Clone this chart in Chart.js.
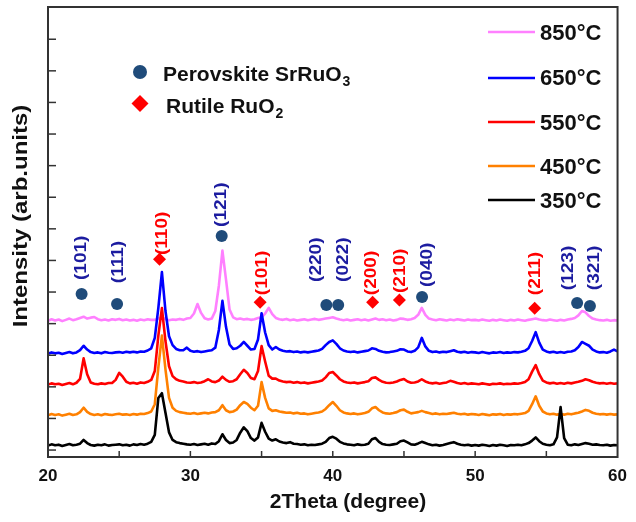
<!DOCTYPE html>
<html><head><meta charset="utf-8">
<script src="https://cdn.jsdelivr.net/npm/chart.js@4.4.1/dist/chart.umd.min.js"></script>
<style>html,body{margin:0;padding:0;background:#fff;}canvas{display:block;}</style>
</head><body>
<canvas id="c" width="636" height="522"></canvas>
<script>
// ---- categories: 2Theta (degree) ----
const twoTheta = [
20,20.25,20.5,20.75,21,21.25,21.5,21.75,22,22.25,22.5,22.75,23,23.25,23.5,23.75,24,24.25,24.5,24.75,
25,25.25,25.5,25.75,26,26.25,26.5,26.75,27,27.25,27.5,27.75,28,28.25,28.5,28.75,29,29.25,29.5,29.75,
30,30.25,30.5,30.75,31,31.25,31.5,31.75,32,32.25,32.5,32.75,33,33.25,33.5,33.75,34,34.25,34.5,34.75,
35,35.25,35.5,35.75,36,36.25,36.5,36.75,37,37.25,37.5,37.75,38,38.25,38.5,38.75,39,39.25,39.5,39.75,
40,40.25,40.5,40.75,41,41.25,41.5,41.75,42,42.25,42.5,42.75,43,43.25,43.5,43.75,44,44.25,44.5,44.75,
45,45.25,45.5,45.75,46,46.25,46.5,46.75,47,47.25,47.5,47.75,48,48.25,48.5,48.75,49,49.25,49.5,49.75,
50,50.25,50.5,50.75,51,51.25,51.5,51.75,52,52.25,52.5,52.75,53,53.25,53.5,53.75,54,54.25,54.5,54.75,
55,55.25,55.5,55.75,56,56.25,56.5,56.75,57,57.25,57.5,57.75,58,58.25,58.5,58.75,59,59.25,59.5,59.75,
60];

// ---- series: intensity (arb. units, stacked as plotted) ----
const int350 = [
14,18,15,17,13,16,19,15,17,20,32,22,16,14,17,15,18,14,16,17,
18,15,17,14,18,16,19,17,20,26,48,165,180,118,56,32,25,22,20,18,
17,19,16,18,20,17,21,19,28,50,32,22,24,32,55,72,60,38,30,40,
86,58,36,30,34,27,24,22,25,20,19,17,18,15,17,16,18,20,26,38,
42,36,26,21,18,17,15,18,16,17,20,34,38,26,19,17,16,18,20,28,
30,24,18,17,21,26,22,18,15,17,14,16,19,22,25,20,17,15,17,14,
16,14,17,15,13,16,14,17,15,13,16,15,17,15,18,22,30,40,28,20,
17,15,18,40,136,38,17,15,18,16,19,22,20,17,18,16,15,17,14,16,
15];
const int450 = [
110,114,111,113,109,112,115,111,113,120,134,121,114,111,113,110,114,112,111,113,
115,112,113,111,114,112,115,114,117,122,145,262,362,255,165,134,124,120,118,116,
115,117,114,116,118,116,119,120,126,142,126,120,122,128,142,152,146,134,126,140,
215,165,132,124,126,122,120,118,119,116,118,115,116,113,115,117,119,122,130,142,
152,140,126,119,116,114,116,113,115,117,121,132,136,126,119,116,115,117,120,126,
128,121,116,118,120,124,120,117,114,116,113,115,114,116,118,115,113,115,112,114,
113,111,114,112,110,113,112,114,111,113,112,114,113,115,117,124,145,170,140,122,
116,113,115,112,114,112,115,113,116,118,122,127,124,118,115,113,114,112,114,112,
113];
const int550 = [
207,211,208,210,206,209,212,208,213,225,290,240,214,210,208,211,209,212,212,222,
244,232,216,211,213,210,214,212,216,222,250,362,449,345,265,234,224,219,217,214,
213,215,212,214,218,224,217,215,220,232,222,216,218,224,240,254,244,228,224,250,
329,280,235,226,226,220,217,215,216,213,215,212,214,211,213,215,217,220,230,244,
247,236,224,217,214,212,214,211,213,215,218,228,230,222,216,213,212,214,217,222,
225,217,213,214,217,224,217,213,211,213,210,212,214,219,216,212,210,212,209,211,
210,208,211,209,207,210,209,211,208,210,209,211,210,212,215,224,248,269,240,220,
214,211,213,210,212,210,213,211,214,216,219,224,221,216,213,211,212,210,212,210,
211];
const int650 = [
305,309,306,308,304,307,310,306,309,316,330,318,310,307,309,306,310,308,307,309,
310,308,311,309,311,309,312,311,315,322,355,450,563,440,360,332,320,316,316,324,
314,311,313,310,312,314,316,324,380,472,390,334,320,322,330,342,330,318,320,350,
433,372,332,318,326,318,314,312,313,310,312,309,311,309,311,313,315,320,332,342,
347,336,322,315,312,310,312,309,311,313,315,322,320,314,311,309,310,312,314,319,
318,312,310,314,325,355,328,314,310,312,309,311,310,313,316,311,309,311,308,310,
309,307,310,308,306,309,308,310,307,309,308,310,309,311,314,322,345,373,340,318,
312,309,311,308,310,308,311,312,316,326,342,336,330,318,312,309,310,308,312,318,
312];
const int850 = [
409,414,410,413,408,412,416,411,414,418,422,416,419,421,414,411,413,410,414,412,
415,411,413,410,412,409,413,411,414,412,412,416,420,414,411,413,412,415,412,416,
418,432,462,434,417,413,416,440,520,631,540,445,420,414,416,413,415,412,414,418,
420,432,450,430,418,414,412,415,411,413,410,412,414,411,413,415,412,414,416,418,
420,416,413,411,413,410,412,414,411,413,410,413,416,412,414,411,413,410,412,416,
415,412,414,418,428,450,428,416,413,411,414,412,410,413,411,414,412,410,413,411,
412,410,413,411,409,412,410,413,411,409,412,410,413,411,409,412,414,416,413,411,
410,413,411,409,412,410,413,415,418,426,440,436,424,416,413,411,410,412,409,411,
410];

const seriesNames = ['350°C','450°C','550°C','650°C','850°C'];
const seriesValues = [int350, int450, int550, int650, int850];
const xTickLabels = [20, 30, 40, 50, 60];

// ---- phase markers (2Theta, height) ----
const perovskiteX = [22.36, 24.85, 32.2, 39.55, 40.38, 46.27, 57.16, 58.06];
const perovskiteY = [494, 462, 677, 459, 459, 484, 465, 456];
const perovskiteLabels = ['(101)','(111)','(121)','(220)','(022)','(040)','(123)','(321)'];
const rutileX = [27.83, 34.9, 42.8, 44.68, 54.18];
const rutileY = [604, 468, 468, 475, 449];
const rutileLabels = ['(110)','(101)','(200)','(210)','(211)'];

// ---- layout / style (kept apart from data) ----
const FONT = '"Liberation Sans", Arial, Helvetica, sans-serif';
const seriesColors = ['#000000', '#ff8000', '#ff0000', '#0000ff', '#ff80ff'];
const perovColor = '#1f4b7a', perovText = '#1c1ca0', rutileColor = '#ff0000';
const perovLabelAnchor = {x:[22.36,24.92,32.2,38.86,40.73,46.62,56.53,58.34], y:[538,528,706,532,532,516,506,506]};
const rutileLabelAnchor = {x:[28.04,35.04,42.74,44.75,54.25], y:[617,490,490,497,490]};
const legendRows = [ // series index, line y, text baseline
  {i:4, y:32, b:40}, {i:3, y:78, b:85}, {i:2, y:122, b:130}, {i:1, y:166, b:174}, {i:0, y:200, b:208}
];

const lineSets = seriesValues.map((vals, k) => ({
  label: seriesNames[k],
  data: twoTheta.map((t, i) => ({x: t, y: vals[i]})),
  borderColor: seriesColors[k],
  borderWidth: 2.6,
  pointRadius: 0,
  tension: 0,
  fill: false,
  borderJoinStyle: 'round'
}));
const markerSets = [
  {label:'Perovskite SrRuO3', data: perovskiteX.map((t,i)=>({x:t,y:perovskiteY[i]})), showLine:false,
   pointStyle:'circle', pointRadius:6, backgroundColor:perovColor, borderColor:perovColor, borderWidth:0},
  {label:'Rutile RuO2', data: rutileX.map((t,i)=>({x:t,y:rutileY[i]})), showLine:false,
   pointStyle:'rectRot', pointRadius:6.5, backgroundColor:rutileColor, borderColor:rutileColor, borderWidth:0}
];

function rotText(ctx, txt, x, y, font, color, stretch, align) {
  ctx.save();
  ctx.translate(x, y);
  ctx.rotate(-Math.PI/2);
  ctx.scale(stretch, 1);
  ctx.font = font; ctx.fillStyle = color;
  ctx.textAlign = align; ctx.textBaseline = 'middle';
  ctx.fillText(txt, 0, 0);
  ctx.restore();
}

const overlay = {
  id: 'overlay',
  afterDraw(chart) {
    const {ctx, chartArea: a, scales: {x, y}} = chart;
    ctx.save();
    // frame
    ctx.strokeStyle = '#333'; ctx.lineWidth = 2;
    ctx.strokeRect(a.left, a.top, a.right - a.left, a.bottom - a.top);
    // inside tick marks
    ctx.lineWidth = 1.5;
    y.ticks.forEach(t => {
      const py = y.getPixelForValue(t.value);
      if (py < a.top + 1 || py > a.bottom - 1) return;
      ctx.beginPath(); ctx.moveTo(a.left, py); ctx.lineTo(a.left + 8, py); ctx.stroke();
    });
    x.ticks.forEach(t => {
      const px = x.getPixelForValue(t.value);
      if (px < a.left + 1 || px > a.right - 1) return;
      ctx.beginPath(); ctx.moveTo(px, a.bottom); ctx.lineTo(px, a.bottom - 6); ctx.stroke();
    });
    // axis titles
    ctx.fillStyle = '#111';
    ctx.font = 'bold 21px ' + FONT; ctx.textAlign = 'center'; ctx.textBaseline = 'alphabetic';
    ctx.fillText('2Theta (degree)', 348, 508);
    rotText(ctx, 'Intensity (arb.units)', 21, 216, 'bold 20px ' + FONT, '#111', 1.2, 'center');
    // series legend
    legendRows.forEach(r => {
      ctx.strokeStyle = seriesColors[r.i]; ctx.lineWidth = 2.5;
      ctx.beginPath(); ctx.moveTo(488, r.y); ctx.lineTo(535, r.y); ctx.stroke();
      ctx.fillStyle = '#111'; ctx.font = 'bold 22px ' + FONT; ctx.textAlign = 'left';
      ctx.fillText(seriesNames[r.i], 540, r.b);
    });
    // phase legend
    ctx.fillStyle = perovColor;
    ctx.beginPath(); ctx.arc(140, 72, 7, 0, Math.PI*2); ctx.fill();
    ctx.fillStyle = rutileColor;
    ctx.beginPath(); ctx.moveTo(140, 95); ctx.lineTo(148.5, 103.5); ctx.lineTo(140, 112); ctx.lineTo(131.5, 103.5); ctx.closePath(); ctx.fill();
    ctx.fillStyle = '#111'; ctx.font = 'bold 21px ' + FONT; ctx.textAlign = 'left';
    let w = ctx.measureText('Perovskite SrRuO').width;
    ctx.fillText('Perovskite SrRuO', 163, 81);
    ctx.font = 'bold 14px ' + FONT; ctx.fillText('3', 163 + w + 1, 86);
    ctx.font = 'bold 21px ' + FONT;
    w = ctx.measureText('Rutile RuO').width;
    ctx.fillText('Rutile RuO', 166, 113);
    ctx.font = 'bold 14px ' + FONT; ctx.fillText('2', 166 + w + 1, 118);
    // peak labels
    const lf = 'bold 17px ' + FONT;
    perovskiteLabels.forEach((s, i) => {
      rotText(ctx, s, x.getPixelForValue(perovLabelAnchor.x[i]), y.getPixelForValue(perovLabelAnchor.y[i]), lf, perovText, 1.12, 'left');
    });
    rutileLabels.forEach((s, i) => {
      rotText(ctx, s, x.getPixelForValue(rutileLabelAnchor.x[i]), y.getPixelForValue(rutileLabelAnchor.y[i]), lf, rutileColor, 1.12, 'left');
    });
    ctx.restore();
  }
};

new Chart(document.getElementById('c'), {
  type: 'line',
  data: { datasets: [...markerSets, ...lineSets] },
  options: {
    responsive: false, animation: false, devicePixelRatio: 1, events: [],
    layout: { padding: {top: 7, right: 11, left: 0, bottom: 0}, autoPadding: false },
    plugins: { legend: {display: false}, tooltip: {enabled: false} },
    scales: {
      x: {
        type: 'linear', min: 20, max: 60,
        afterFit(s) { s.height = 65; },
        border: {display: false},
        grid: {display: false, drawTicks: false},
        ticks: {stepSize: 5, autoSkip: false, maxRotation: 0, padding: 9, color: '#111',
          font: {family: FONT, size: 17, weight: 'bold'},
          callback: v => xTickLabels.includes(v) ? String(v) : ''}
      },
      y: {
        type: 'linear', min: -22, max: 1402,
        afterFit(s) { s.width = 48; },
        border: {display: false},
        grid: {display: false, drawTicks: false},
        ticks: {display: false, stepSize: 100, includeBounds: false}
      }
    }
  },
  plugins: [overlay]
});
</script>
</body></html>
